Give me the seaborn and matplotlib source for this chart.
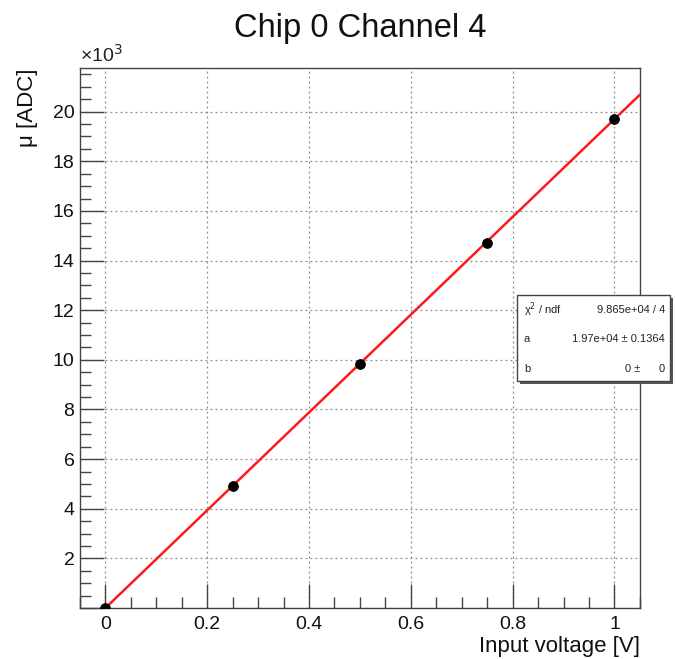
import numpy as np
import pandas as pd
import matplotlib
matplotlib.use("Agg")
import matplotlib.pyplot as plt
import seaborn as sns
from matplotlib.ticker import MultipleLocator, FuncFormatter
from matplotlib.patches import Rectangle

# Measured channel response
voltage = [0.0, 0.25, 0.5, 0.75, 1.0]
mu_adc = [0.0, 4900.0, 9850.0, 14700.0, 19700.0]

# Linear fit results (y = a * x + b)
fit_a = 19700.0
fit_b = 0.0
stat_labels = ["\u03c7$^{2}$ / ndf", "a", "b"]
stat_values = ["9.865e+04 / 4", "1.97e+04 \u00b1 0.1364", "0 \u00b1      0"]

sns.set_theme(style="white")
plt.rcParams["font.family"] = ["Liberation Sans", "DejaVu Sans"]

fig = plt.figure(figsize=(6.75, 6.59), dpi=100)
ax = fig.add_axes([0.1185, 0.0774, 0.8295, 0.8194])

df = pd.DataFrame({"x": voltage, "y": np.array(mu_adc) / 1000.0})
xfit = np.linspace(0.0, 1.05, 50)
fit_df = pd.DataFrame({"x": xfit, "y": (fit_a * xfit + fit_b) / 1000.0})

sns.lineplot(data=fit_df, x="x", y="y", ax=ax, color="#ff1a1a", lw=1.8, zorder=3)
sns.scatterplot(data=df, x="x", y="y", ax=ax, color="black", s=50,
                edgecolor="black", zorder=4)

ax.set_xlim(-0.05, 1.05)
ax.set_ylim(0.0, 21.76)

ax.xaxis.set_major_locator(MultipleLocator(0.2))
ax.xaxis.set_minor_locator(MultipleLocator(0.05))
ax.yaxis.set_major_locator(MultipleLocator(2))
ax.yaxis.set_minor_locator(MultipleLocator(0.5))

def xfmt(v, pos):
    if abs(v) < 1e-9:
        return "0"
    if abs(v - 1) < 1e-9:
        return "1"
    return f"{v:.1f}"

def yfmt(v, pos):
    if v < 1:
        return ""
    return f"{v:.0f}"

ax.xaxis.set_major_formatter(FuncFormatter(xfmt))
ax.yaxis.set_major_formatter(FuncFormatter(yfmt))

ax.tick_params(axis="both", which="major", direction="in", length=17,
               width=1.0, color="#444444", labelsize=14, labelcolor="#111111")
ax.tick_params(axis="both", which="minor", direction="in", length=8,
               width=1.0, color="#444444")
ax.tick_params(axis="x", which="major", pad=6)
ax.tick_params(axis="y", which="major", pad=4)
ax.tick_params(bottom=True, left=True, top=False, right=False, which="both")

ax.grid(True, which="major", linestyle=(0, (1.5, 2.5)), color="#8a8a8a", lw=0.9)
for s in ax.spines.values():
    s.set_color("#444444")
    s.set_linewidth(1.0)

ax.set_xlabel("Input voltage [V]", fontsize=16, color="#111111")
ax.xaxis.set_label_coords(1.0, -0.052)
ax.xaxis.label.set_horizontalalignment("right")
ax.set_ylabel("\u03bc [ADC]", fontsize=16, color="#111111")
ax.yaxis.set_label_coords(-0.112, 1.0)
ax.yaxis.label.set_verticalalignment("top")
ax.yaxis.label.set_horizontalalignment("right")

ax.set_title("Chip 0 Channel 4", fontsize=23.5, color="#111111", pad=22)
ax.text(0.0, 1.005, "\u00d710$^{3}$", transform=ax.transAxes, ha="left",
        va="bottom", fontsize=14, color="#222222")

# Fit statistics box (with ROOT-style drop shadow)
W, H = 675.0, 659.0
bx0, by0, bx1, by1 = 517, 295, 670, 381
fig.patches.append(Rectangle(((bx0 + 3) / W, 1 - (by1 + 3) / H),
                             (bx1 - bx0) / W, (by1 - by0) / H,
                             transform=fig.transFigure, facecolor="#555555",
                             edgecolor="none", zorder=5))
fig.patches.append(Rectangle((bx0 / W, 1 - by1 / H),
                             (bx1 - bx0) / W, (by1 - by0) / H,
                             transform=fig.transFigure, facecolor="white",
                             edgecolor="#444444", lw=1.0, zorder=6))
row_y = [310, 339, 369]
for lab, val, ry in zip(stat_labels, stat_values, row_y):
    fig.text((bx0 + 7) / W, 1 - ry / H, lab, ha="left", va="center",
             fontsize=8, color="#222222", zorder=7)
    fig.text((bx1 - 5) / W, 1 - ry / H, val, ha="right", va="center",
             fontsize=8, color="#222222", zorder=7)

fig.savefig("out.png", dpi=100, facecolor="white")
